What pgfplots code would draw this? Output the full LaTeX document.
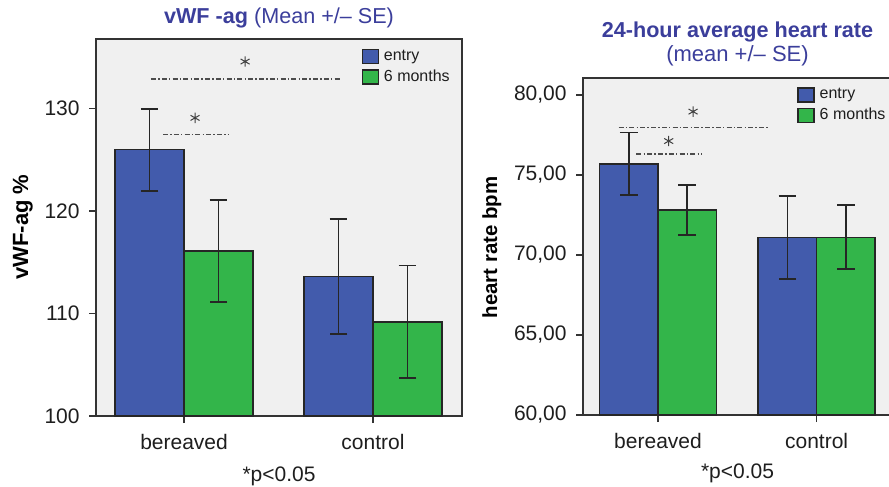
\documentclass[border=0pt]{standalone}
\usepackage{pgfplots}
\pgfplotsset{compat=1.18}
\usepackage{fontspec}
\setmainfont{Liberation Sans}
\definecolor{cblue}{RGB}{66,91,172}
\definecolor{cgreen}{RGB}{51,181,74}
\definecolor{cbg}{RGB}{240,240,240}
\definecolor{ctitle}{RGB}{59,62,155}
\definecolor{ctext}{RGB}{30,30,30}
\pgfplotsset{
  mybars/.style={
    scale only axis,
    axis background/.style={fill=cbg},
    axis line style={black!80, line width=0.7pt},
    tick align=outside, tick pos=left,
    major tick length=3.5pt,
    tick style={black!80, line width=0.7pt},
    xtick={0,1}, xticklabels={bereaved,control},
    ticklabel style={font=\fontsize{10.5}{12}\selectfont, text=ctext},
    yticklabel style={anchor=east, inner sep=0pt, xshift=-4.5pt},
    xticklabel style={anchor=north, inner sep=0pt, yshift=-5.5pt},
    legend image code/.code={\draw[##1] (0pt,-3.5pt) rectangle (8pt,3.5pt);},
    legend cell align=left,
  },
  errs/.style={draw=none, mark=none, forget plot,
    error bars/y dir=both, error bars/y explicit,
    error bars/error bar style={line width=0.8pt, draw=black!85, solid},
    error bars/error mark options={rotate=90, mark size=4.4pt, line width=0.9pt, draw=black!85, solid}},
  sigline/.style={black!70, line width=0.6pt, dash pattern=on 2.5pt off 1.1pt on 0.7pt off 1.1pt, forget plot},
  sigstar/.style={only marks, mark=asterisk, mark size=2.6pt, black!75, mark options={line width=0.5pt}, forget plot},
  mylegend/.style={legend style={at={(#1,0.988)}, anchor=north west, draw=none, fill=none,
    font=\fontsize{8}{9}\selectfont, text=ctext, row sep=1.2pt,
    nodes={inner sep=1pt},
    /tikz/every odd column/.append style={column sep=1.5pt}}},
}
\begin{document}
\begin{tikzpicture}
% ---------- left panel ----------
\begin{axis}[mybars,
  at={(48pt,-208pt)}, anchor=south west,
  width=183pt, height=188.5pt,
  xmin=-0.466, xmax=1.471, ymin=100, ymax=136.8,
  ytick={100,110,120,130}, yticklabels={100,110,120,130},
  mylegend=0.708,
]
\addlegendimage{fill=cblue, draw=black!85, line width=0.7pt}
\addlegendentry{entry}
\addlegendimage{fill=cgreen, draw=black!85, line width=0.7pt}
\addlegendentry{6 months}
\addplot[ybar, bar width=0.365, bar shift=-0.1825, fill=cblue, draw=black!85, line width=0.8pt, forget plot]
  coordinates {(0,126.0) (1,113.6)};
\addplot[ybar, bar width=0.365, bar shift=0.1825, fill=cgreen, draw=black!85, line width=0.8pt, forget plot]
  coordinates {(0,116.1) (1,109.2)};
\addplot[errs] coordinates {(-0.1825,126.0) +- (0,4.0) (0.8175,113.6) +- (0,5.6)};
\addplot[errs] coordinates {(0.1825,116.1) +- (0,5.0) (1.1825,109.2) +- (0,5.5)};
\addplot[sigline] coordinates {(-0.175,132.9) (0.825,132.9)};
\addplot[sigline] coordinates {(-0.111,127.5) (0.233,127.5)};
\addplot[sigstar] coordinates {(0.323,134.6) (0.058,129.1)};
\end{axis}
% ---------- right panel ----------
\begin{axis}[mybars,
  at={(291.5pt,-207.5pt)}, anchor=south west,
  width=154pt, height=168.5pt,
  xmin=-0.473, xmax=1.469, ymin=60, ymax=81.06,
  ytick={60,65,70,75,80}, yticklabels={{60,00},{65,00},{70,00},{75,00},{80,00}},
  mylegend=0.675,
]
\addlegendimage{fill=cblue, draw=black!85, line width=0.7pt}
\addlegendentry{entry}
\addlegendimage{fill=cgreen, draw=black!85, line width=0.7pt}
\addlegendentry{6 months}
\addplot[ybar, bar width=0.369, bar shift=-0.1845, fill=cblue, draw=black!85, line width=0.8pt, forget plot]
  coordinates {(0,75.7) (1,71.1)};
\addplot[ybar, bar width=0.369, bar shift=0.1845, fill=cgreen, draw=black!85, line width=0.8pt, forget plot]
  coordinates {(0,72.8) (1,71.1)};
\addplot[errs] coordinates {(-0.1845,75.7) +- (0,1.95) (0.8155,71.1) +- (0,2.6)};
\addplot[errs] coordinates {(0.1845,72.8) +- (0,1.57) (1.1845,71.1) +- (0,2.0)};
\addplot[sigline] coordinates {(-0.248,77.98) (0.705,77.98)};
\addplot[sigline] coordinates {(-0.136,76.31) (0.274,76.31)};
\addplot[sigstar] coordinates {(0.221,78.96) (0.0675,77.12)};
\end{axis}
% ---------- texts ----------
\node[anchor=base, text=ctitle, font=\fontsize{10.8}{12}\selectfont] at (139.5pt,-12pt) {\textbf{vWF -ag} (Mean +/– SE)};
\node[anchor=base, text=ctitle, font=\fontsize{10.8}{12}\selectfont\bfseries] at (368.75pt,-18.85pt) {24-hour average heart rate};
\node[anchor=base, text=ctitle, font=\fontsize{11}{12}\selectfont] at (368.75pt,-30.8pt) {(mean +/– SE)};
\node[rotate=90, anchor=base, text=black, font=\fontsize{11}{12}\selectfont\bfseries] at (14pt,-113.5pt) {vWF-ag \%};
\node[rotate=90, anchor=base, text=black, font=\fontsize{10.2}{12}\selectfont\bfseries] at (248.5pt,-123.75pt) {heart rate bpm};
\node[anchor=base, text=ctext, font=\fontsize{10.5}{12}\selectfont] at (139.5pt,-240.85pt) {*p<0.05};
\node[anchor=base, text=ctext, font=\fontsize{10.5}{12}\selectfont] at (368.75pt,-239pt) {*p<0.05};
\pgfresetboundingbox
\path[use as bounding box] (0,0) rectangle (444.5pt,-243.5pt);
\end{tikzpicture}
\end{document}
